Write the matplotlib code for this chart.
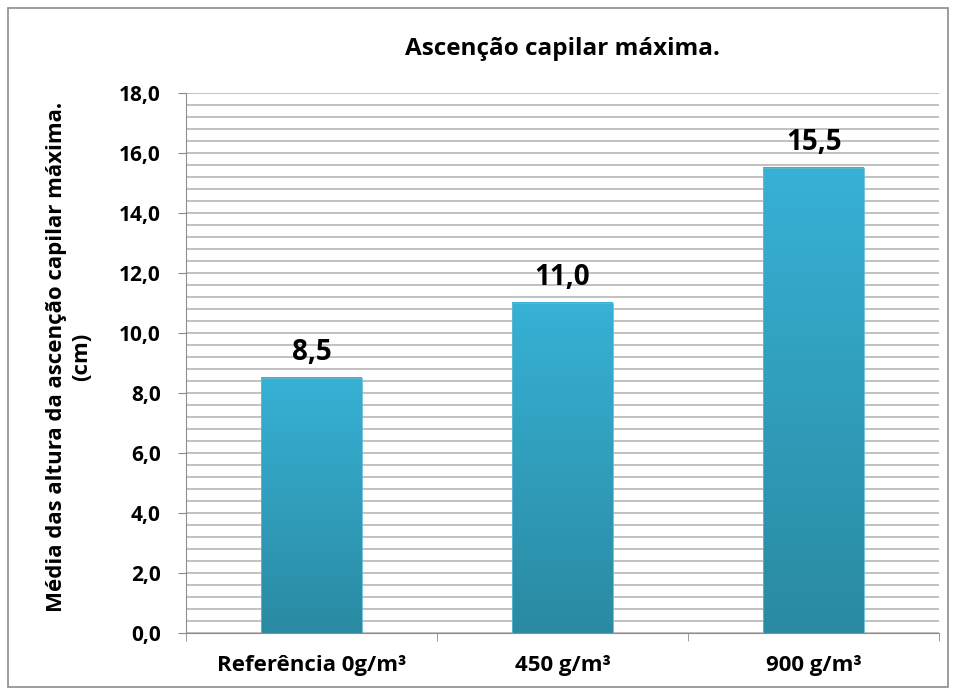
import matplotlib.pyplot as plt
import numpy as np
from matplotlib.patches import Rectangle

categories = ['Referência 0g/m³', '450 g/m³', '900 g/m³']
values = [8.5, 11.0, 15.5]

title = 'Ascenção capilar máxima.'
ylabel = 'Média das altura da ascenção capilar máxima.\n(cm)'

plt.rcParams['font.family'] = ['Open Sans', 'DejaVu Sans']
plt.rcParams['font.weight'] = 'bold'

fig = plt.figure(figsize=(9.56, 6.95), dpi=100)
fig.patches.append(Rectangle((0.008, 0.012), 0.984, 0.976, transform=fig.transFigure,
                             fill=False, edgecolor='#8c8c8c', linewidth=1.2))

ax = fig.add_axes([0.1945, 0.0892, 0.788, 0.777])
x = np.arange(len(categories))
bars = ax.bar(x, values, width=0.40, color='none', edgecolor='#5fb9d3', linewidth=0.6, zorder=3)

# vertical gradient inside each bar
grad = np.linspace(0, 1, 256).reshape(-1, 1)
cmap = plt.matplotlib.colors.LinearSegmentedColormap.from_list('g', ['#2a8aa2', '#37b1d5'])
for b in bars:
    x0, w, h = b.get_x(), b.get_width(), b.get_height()
    ax.imshow(grad, extent=(x0, x0 + w, 0, h), origin='lower', cmap=cmap,
              aspect='auto', zorder=2)
    ax.text(x0 + w / 2, h + 0.35, f'{h:.1f}'.replace('.', ','), ha='center', va='bottom',
            fontsize=20, fontweight='bold')

ax.set_xlim(-0.5, len(categories) - 0.5)
ax.set_ylim(0, 18)
ax.set_yticks(np.arange(0, 18.1, 2))
ax.set_yticklabels([f'{v:.1f}'.replace('.', ',') for v in np.arange(0, 18.1, 2)], fontsize=15)
ax.set_yticks(np.arange(0, 18.01, 0.4), minor=True)
ax.grid(axis='y', which='both', color='#b0b0b0', linewidth=1.1, zorder=0)
ax.tick_params(axis='y', which='minor', length=0)
ax.tick_params(axis='y', which='major', length=6, color='#8c8c8c', pad=12)

ax.set_xticks(x)
ax.set_xticklabels(categories, fontsize=16)
ax.set_xticks(np.arange(-0.5, len(categories)), minor=True)
ax.tick_params(axis='x', which='major', length=0, pad=16)
ax.tick_params(axis='x', which='minor', length=6, color='#8c8c8c')

for s in ['top', 'right']:
    ax.spines[s].set_visible(False)
ax.spines['left'].set_color('#8c8c8c')
ax.spines['bottom'].set_color('#8c8c8c')

ax.set_title(title, fontsize=17.5, fontweight='bold', pad=27)
ax.set_ylabel(ylabel, fontsize=16, fontweight='bold', linespacing=1.25)
ax.yaxis.set_label_coords(-0.125, 0.511)

fig.savefig('out.png', dpi=100)
